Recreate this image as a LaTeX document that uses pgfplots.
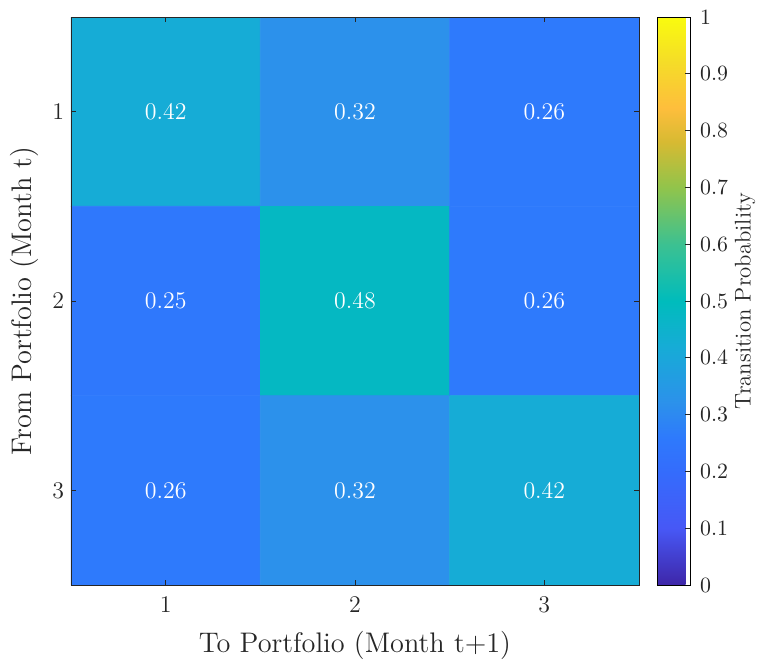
\documentclass[border=0pt]{standalone}
\usepackage{pgfplots}
\pgfplotsset{compat=1.18}
\usepackage{pgfplotstable}

\pgfplotstableread{
x y C
1 1 0.42
2 1 0.32
3 1 0.26
1 2 0.25
2 2 0.48
3 2 0.26
1 3 0.26
2 3 0.32
3 3 0.42
}\transmat

\definecolor{axgray}{RGB}{38,38,38}

\begin{document}
\begin{tikzpicture}
% page as in the reference: axis sits at the origin (south west)
\useasboundingbox (-35.5bp,-38bp) rectangle (343.5bp,292.5bp);
\begin{axis}[
    scale only axis,
    width=284bp, height=284bp,
    xmin=0.5, xmax=3.5, ymin=0.5, ymax=3.5,
    y dir=reverse,
    axis on top,
    xtick={1,2,3}, ytick={1,2,3},
    tick align=inside,
    major tick length=2.5bp,
    axis line style={axgray, line width=0.4pt},
    every tick/.style={axgray, line width=0.4pt},
    tick label style={font=\fontsize{12.3}{14}\selectfont, text=axgray},
    xticklabel style={yshift=-2.5bp},
    label style={font=\fontsize{14.2}{16}\selectfont, text=axgray},
    xlabel style={yshift=-2.5bp},
    xlabel={To Portfolio (Month t+1)},
    ylabel={From Portfolio (Month t)},
    colormap={parula}{
        rgb255(0)=(62,38,168)
        rgb255(0.1)=(71,88,246)
        rgb255(0.2)=(52,108,252)
        rgb255(0.26)=(46,122,252)
        rgb255(0.32)=(44,145,235)
        rgb255(0.42)=(22,172,214)
        rgb255(0.5)=(0,188,188)
        rgb255(0.6)=(60,193,145)
        rgb255(0.7)=(145,196,75)
        rgb255(0.78)=(215,186,50)
        rgb255(0.84)=(254,190,60)
        rgb255(0.92)=(245,220,40)
        rgb255(1)=(249,251,14)
    },
    point meta min=0, point meta max=1,
    colorbar,
    colorbar style={
        width=16.5bp,
        at={(1.032,1)}, anchor=north west,
        ytick={0,0.1,...,1},
        ytick pos=right,
        yticklabel pos=right,
        tick align=inside,
        major tick length=2.5bp,
        yticklabel style={font=\fontsize{11}{13}\selectfont, text=axgray,
            xshift=1.5bp, /pgf/number format/fixed},
        ylabel={Transition Probability},
        ylabel shift=-3.5bp,
        ylabel style={font=\fontsize{11.4}{13}\selectfont, text=axgray},
    },
]
\addplot[matrix plot*, mesh/cols=3, point meta=explicit,
    nodes near coords={\pgfmathprintnumber[fixed,precision=2,fixed zerofill]{\pgfplotspointmeta}},
    nodes near coords style={anchor=center, text=white, font=\fontsize{12.5}{14}\selectfont}]
    table[x=x, y=y, meta=C] {\transmat};
\end{axis}
\end{tikzpicture}
\end{document}
